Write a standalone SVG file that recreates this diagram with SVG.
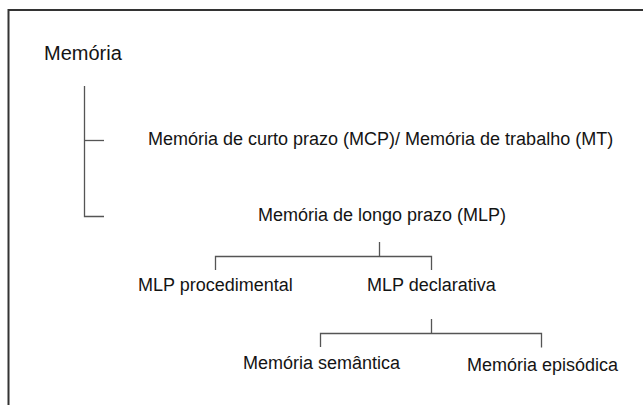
<svg xmlns="http://www.w3.org/2000/svg" width="643" height="405" viewBox="0 0 643 405">
<style>
text{font-family:"Liberation Sans",Arial,sans-serif;fill:#141414;font-size:18px}
.c{fill:none;stroke:#555;stroke-width:1.3}
</style>
<rect x="0" y="0" width="643" height="405" fill="#fff"/>
<path d="M8.5,420 V10 H660" fill="none" stroke="#333" stroke-width="2"/>
<g id="n-memoria"><text x="44" y="59.5" style="font-size:20px">Memória</text></g>
<g id="n-mcp"><text x="148" y="144.5">Memória de curto prazo (MCP)/ Memória de trabalho (MT)</text></g>
<g id="n-mlp"><text x="258" y="221">Memória de longo prazo (MLP)</text></g>
<g id="n-proc"><text x="138" y="291">MLP procedimental</text></g>
<g id="n-decl"><text x="367" y="291">MLP declarativa</text></g>
<g id="n-sem"><text x="243" y="368.5">Memória semântica</text></g>
<g id="n-epi"><text x="467" y="370.5">Memória episódica</text></g>
<g id="connectors">
<path class="c" d="M84.5,86 V216.5 H104"/>
<path class="c" d="M84.5,140.5 H104"/>
<path class="c" d="M215.5,270 V256.5 H431.5 V270"/>
<path class="c" d="M379.5,242 V256.5"/>
<path class="c" d="M320.5,347 V333.5 H541.5 V347.5"/>
<path class="c" d="M431.5,319 V333.5"/>
</g>
</svg>
